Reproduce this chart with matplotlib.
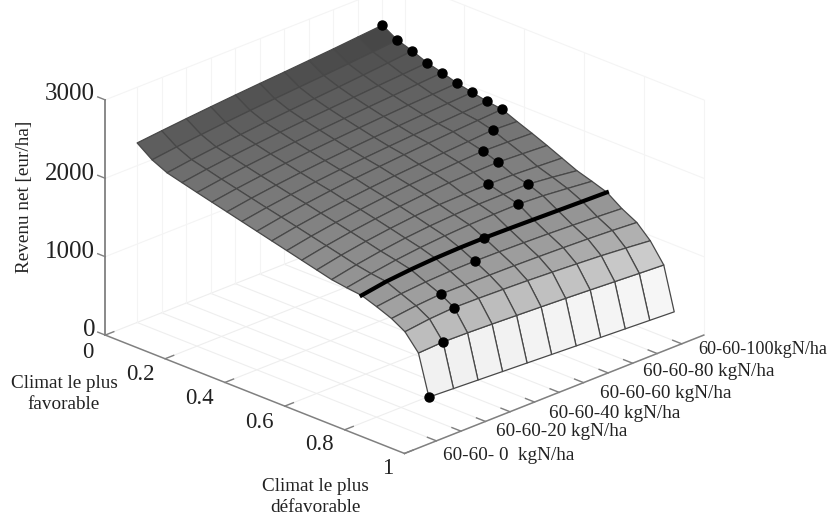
import numpy as np
import matplotlib
matplotlib.use("Agg")
import matplotlib.pyplot as plt

plt.rcParams['font.family'] = ['Liberation Serif', 'DejaVu Serif']

# Donnees
climat = [0, .05, .1, .15, .2, .25, .3, .35, .4, .45, .5, .55, .6, .65, .7, .75, .8, .85, .895, .94, .975]
azote = [0, 10, 20, 30, 40, 50, 60, 70, 80, 90, 100]
revenu = [
    [2290, 2322, 2352, 2380, 2406, 2430, 2452, 2476, 2500, 2528, 2555],
    [2150, 2190, 2224, 2256, 2284, 2310, 2334, 2358, 2384, 2412, 2440],
    [2060, 2104, 2142, 2176, 2208, 2236, 2262, 2288, 2316, 2346, 2377],
    [2010, 2056, 2094, 2128, 2158, 2184, 2208, 2232, 2256, 2278, 2300],
    [1960, 2006, 2046, 2080, 2110, 2136, 2160, 2184, 2206, 2228, 2250],
    [1912, 1960, 2000, 2036, 2066, 2092, 2116, 2138, 2158, 2174, 2190],
    [1864, 1914, 1956, 1992, 2022, 2048, 2072, 2094, 2114, 2132, 2150],
    [1816, 1868, 1912, 1950, 1982, 2008, 2032, 2054, 2074, 2092, 2110],
    [1768, 1824, 1872, 1912, 1946, 1974, 2000, 2024, 2046, 2066, 2085],
    [1720, 1778, 1826, 1866, 1900, 1930, 1954, 1976, 1996, 2018, 2005],
    [1672, 1732, 1782, 1824, 1860, 1890, 1914, 1934, 1950, 1942, 1930],
    [1624, 1686, 1738, 1780, 1816, 1846, 1868, 1878, 1884, 1868, 1850],
    [1576, 1640, 1692, 1734, 1768, 1790, 1798, 1803, 1798, 1782, 1765],
    [1528, 1592, 1644, 1686, 1716, 1736, 1748, 1750, 1754, 1720, 1680],
    [1500, 1556, 1604, 1640, 1666, 1684, 1694, 1699, 1682, 1652, 1620],
    [1478, 1530, 1560, 1580, 1590, 1592, 1586, 1578, 1570, 1562, 1555],
    [1410, 1450, 1476, 1490, 1494, 1490, 1482, 1472, 1458, 1442, 1423],
    [1334, 1372, 1396, 1394, 1392, 1388, 1380, 1370, 1358, 1342, 1321],
    [1233, 1272, 1293, 1288, 1278, 1266, 1250, 1232, 1212, 1186, 1156],
    [1030, 1047, 1040, 1028, 1014, 1000, 985, 968, 950, 932, 915],
    [520, 505, 490, 475, 460, 445, 430, 415, 400, 385, 370],
]
# dose optimale pour chaque climat (points noirs)
azote_opt = [100, 100, 100, 100, 100, 100, 100, 100, 100, 90, 80, 80, 70, 80, 70, 50, 40, 20, 20, 10, 0]
# ligne epaisse : climat moyen, rangee de la surface
indice_moyen = 15

ticks_climat = [0, .2, .4, .6, .8, 1]
labels_climat = ['0', '0.2', '0.4', '0.6', '0.8', '1']
ticks_revenu = [0, 1000, 2000, 3000]
labels_azote = ['60-60- 0  kgN/ha', '60-60-20 kgN/ha', '60-60-40 kgN/ha',
                '60-60-60 kgN/ha', '60-60-80 kgN/ha', '60-60-100kgN/ha']

N_MIN, N_MAX = -13, 109
Z_MAX = 3000


def px(x, y):
    return x / 834, 1 - y / 518


fig = plt.figure(figsize=(8.34, 5.18), dpi=100)
# axes carres plus grands que la figure, sinon mplot3d coupe les traits
ax = fig.add_axes([(391 - 500) / 834, (287 - 500) / 518, 1000 / 834, 1000 / 518],
                  projection='3d', proj_type='ortho', computed_zorder=False)
ax.set_box_aspect((1, 1, 0.605), zoom=0.632)
ax.view_init(elev=23.3, azim=-45)
ax.set_xlim(0, 1, view_margin=0)
ax.set_ylim(N_MIN, N_MAX, view_margin=0)
ax.set_zlim(0, Z_MAX, view_margin=0)
ax.set_axis_off()

# grille tres claire
sol = '#eeeeee'
mur = '#f4f4f4'
for p in ticks_climat:
    ax.plot([p, p], [N_MIN, N_MAX], [0, 0], color=sol, lw=0.8, zorder=1)
    ax.plot([p, p], [N_MAX, N_MAX], [0, Z_MAX], color=mur, lw=0.8, zorder=1)
for n in azote:
    ax.plot([0, 1], [n, n], [0, 0], color=sol, lw=0.8, zorder=1)
    ax.plot([0, 0], [n, n], [0, Z_MAX], color=mur, lw=0.8, zorder=1)
for z in ticks_revenu[1:]:
    ax.plot([0, 0], [N_MIN, N_MAX], [z, z], color=mur, lw=0.8, zorder=1)
    ax.plot([0, 1], [N_MAX, N_MAX], [z, z], color=mur, lw=0.8, zorder=1)

# axes et graduations
trait = '#808080'
ax.plot([0, 1], [N_MIN, N_MIN], [0, 0], color=trait, lw=1.1, zorder=2)
ax.plot([1, 1], [N_MIN, N_MAX], [0, 0], color=trait, lw=1.1, zorder=2)
ax.plot([0, 0], [N_MIN, N_MIN], [0, Z_MAX], color=trait, lw=1.3, zorder=2)
for p in ticks_climat:
    ax.plot([p, p], [N_MIN, N_MIN + 3.5], [0, 0], color=trait, lw=1, zorder=2)
for n in azote:
    ax.plot([1, 0.97], [n, n], [0, 0], color=trait, lw=1, zorder=2)
for z in ticks_revenu:
    ax.plot([0, -0.025], [N_MIN, N_MIN], [z, z], color=trait, lw=1, zorder=2)

# etiquettes placees a la main comme sur l'original
for y, z in zip([330, 252, 174, 94], ticks_revenu):
    fig.text(*px(95, y), str(z), fontsize=18, ha='right', va='center', color='#222222')
for (x, y), lab in zip([(88, 352), (140, 375), (199, 398), (259, 422), (319, 445), (388, 468)], labels_climat):
    fig.text(*px(x, y), lab, fontsize=16.5, ha='center', va='center', color='#222222')
for (x, y), lab, fs in zip([(443, 455), (496, 431), (549, 413), (600, 393), (643, 372), (698, 350)], labels_azote,
                           [13.8, 13.8, 13.8, 13.8, 13.8, 13.1]):
    fig.text(*px(x, y), lab, fontsize=fs, ha='left', va='center', color='#222222')

# surface
Z = np.array(revenu, dtype=float)
P, N = np.meshgrid(climat, azote, indexing='ij')
moyenne = Z.copy()
moyenne[:-1, :-1] = (Z[:-1, :-1] + Z[1:, :-1] + Z[:-1, 1:] + Z[1:, 1:]) / 4
gris = np.interp(moyenne, [400, 800, 1100, 1300, 1500, 2000, 2500],
                 [255, 240, 195, 170, 150, 115, 70]) / 255
couleurs = np.dstack([gris, gris, gris, np.ones_like(gris)])
ax.plot_surface(P, N, Z, facecolors=couleurs, rstride=1, cstride=1, shade=False,
                edgecolor='#484848', linewidth=0.9, antialiased=True, zorder=3)

ax.plot([climat[indice_moyen]] * len(azote), azote, Z[indice_moyen], color='black', lw=3, zorder=4)

z_opt = [Z[i, azote.index(n)] for i, n in enumerate(azote_opt)]
ax.plot(climat, azote_opt, z_opt, 'o', color='black', ms=6.5, zorder=5)

fig.text(*px(64, 394), 'Climat le plus\nfavorable', fontsize=13.8, ha='center', va='center',
         linespacing=1.35, color='#222222')
fig.text(*px(315, 497), 'Climat le plus\ndéfavorable', fontsize=13.8, ha='center', va='center',
         linespacing=1.35, color='#222222')
fig.text(*px(25, 197), 'Revenu net [eur/ha]', fontsize=13.8, rotation=90, ha='center', va='center',
         color='#222222')

fig.savefig('out.png', dpi=100)
